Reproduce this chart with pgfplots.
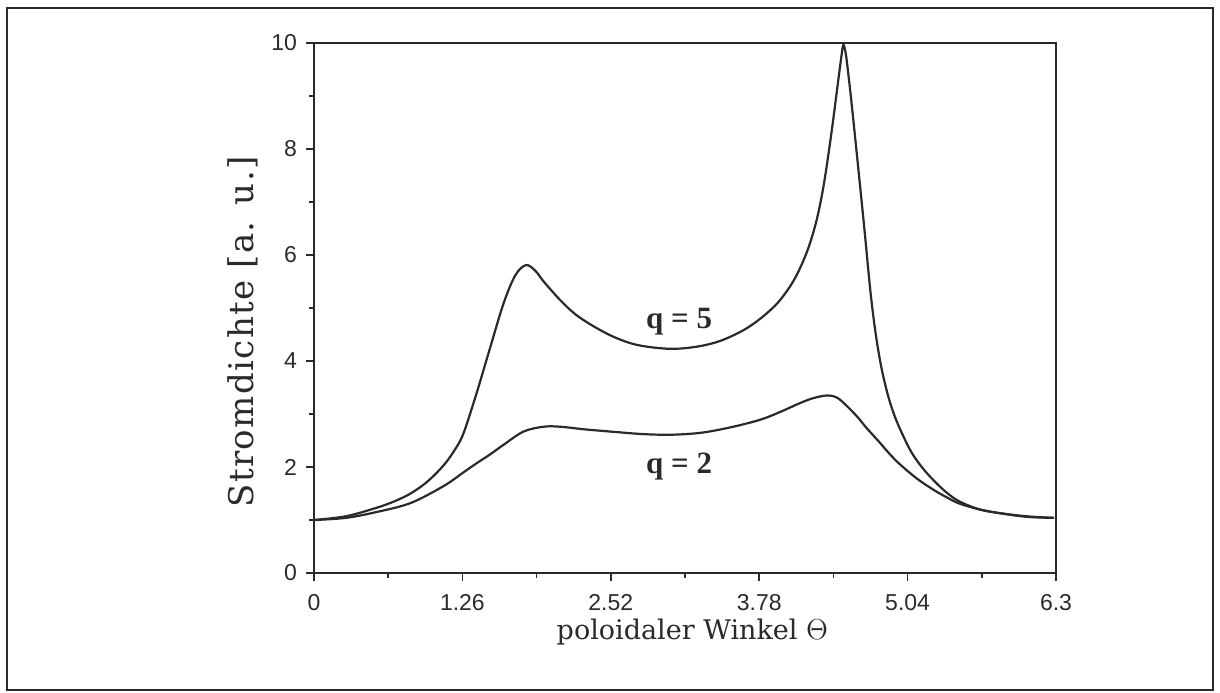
\documentclass[border=0pt]{standalone}
\usepackage{pgfplots}
\pgfplotsset{compat=1.18}
\usepackage{fontspec}
\setmainfont{Liberation Sans}
\newfontfamily\labelfont{DejaVu Serif}
\newfontfamily\ylabelfont[LetterSpace=4]{DejaVu Serif}
\newfontfamily\qfont{Liberation Serif}
\definecolor{ink}{HTML}{2A2A2A}
\begin{document}
\begin{tikzpicture}[x=1pt,y=1pt]
\useasboundingbox (0,0) rectangle (610,346);
\draw[ink, line width=1.1pt] (3.5,1) rectangle (606.5,342);
\begin{axis}[
  at={(157pt,59.5pt)}, anchor=south west,
  scale only axis, width=371pt, height=265pt,
  xmin=0, xmax=6.3, ymin=0, ymax=10,
  axis line style={ink, line width=0.9pt},
  xtick={0,1.26,2.52,3.78,5.04,6.3},
  xticklabels={0,1.26,2.52,3.78,5.04,6.3},
  minor xtick={0.63,1.89,3.15,4.41,5.67},
  ytick={0,2,4,6,8,10},
  minor ytick={1,3,5,7,9},
  xtick pos=bottom, ytick pos=left,
  tick align=outside,
  major tick length=4pt, minor tick length=2.5pt,
  every tick/.style={ink, line width=0.8pt},
  tick label style={font=\fontsize{11.5}{13}\selectfont, text=ink},
  /pgf/number format/assume math mode=true,
  xticklabel style={yshift=-3pt},
  yticklabel style={xshift=-1pt},
  xlabel={poloidaler Winkel $\Theta$},
  ylabel={Stromdichte [a. u.]},
  xlabel style={font=\labelfont\fontsize{13.5}{15}\selectfont, text=ink, at={(axis description cs:0.51,-0.125)}, anchor=base},
  ylabel style={font=\ylabelfont\fontsize{17}{19}\selectfont, text=ink, at={(axis description cs:-0.096,0.455)}, anchor=center},
  clip=false,
]
\addplot[ink, line width=1.1pt, smooth, tension=0.55] coordinates {
(0,1.00) (0.27,1.07) (0.53,1.23) (0.68,1.35) (0.82,1.50) (0.96,1.72) (1.10,2.03) (1.20,2.34) (1.27,2.64)
(1.38,3.39) (1.49,4.21) (1.61,5.09) (1.71,5.62) (1.80,5.81) (1.88,5.70) (1.95,5.50)
(2.09,5.15) (2.22,4.88) (2.37,4.66) (2.55,4.45) (2.75,4.30) (3.02,4.23)
(3.25,4.27) (3.45,4.38) (3.645,4.58) (3.79,4.80) (3.93,5.08) (4.04,5.40)
(4.12,5.72) (4.20,6.15) (4.27,6.68) (4.33,7.35) (4.39,8.25) (4.44,9.10) (4.475,9.70) (4.494,9.96)
(4.515,9.80) (4.54,9.35) (4.565,8.85) (4.617,7.73) (4.674,6.47) (4.725,5.30) (4.77,4.50)
(4.82,3.85) (4.88,3.30) (4.95,2.85) (5.062,2.32) (5.16,2.00) (5.26,1.75) (5.37,1.52)
(5.48,1.35) (5.65,1.20) (5.82,1.13) (6.05,1.07) (6.283,1.04)
};
\addplot[ink, line width=1.1pt, smooth, tension=0.55] coordinates {
(0,1.00) (0.27,1.04) (0.53,1.15) (0.82,1.32) (1.10,1.64) (1.27,1.90)
(1.38,2.07) (1.49,2.23) (1.61,2.42) (1.78,2.67) (1.95,2.76) (2.09,2.76)
(2.30,2.71) (2.51,2.67) (2.80,2.62) (3.05,2.61) (3.30,2.65) (3.56,2.76)
(3.80,2.90) (3.98,3.06) (4.12,3.20) (4.24,3.30) (4.36,3.35) (4.44,3.31)
(4.52,3.16) (4.62,2.93) (4.69,2.74) (4.80,2.47) (4.89,2.24) (4.975,2.05)
(5.12,1.78) (5.26,1.57) (5.37,1.43) (5.48,1.31) (5.65,1.20) (5.82,1.13) (6.05,1.06) (6.283,1.04)
};
\node[font=\qfont\bfseries\fontsize{15.5}{17}\selectfont, text=ink] at (axis cs:3.10,4.74) {q = 5};
\node[font=\qfont\bfseries\fontsize{15.5}{17}\selectfont, text=ink] at (axis cs:3.10,2.0) {q = 2};
\end{axis}
\end{tikzpicture}
\end{document}
